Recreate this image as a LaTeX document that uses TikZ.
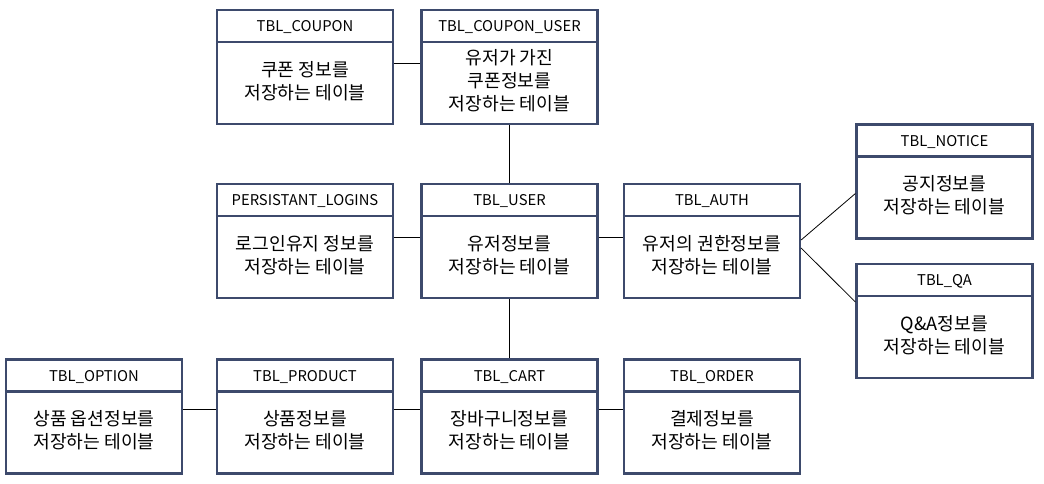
\documentclass[tikz,border=0pt]{standalone}
\usepackage{fontspec}
\setmainfont{Noto Sans CJK KR}
\usepackage{tikz}
\definecolor{TableBlue}{HTML}{3D4A6C}

% one table: name, centre, header, body
\newcommand{\dbtable}[4]{%
  \node[tbl] (#1) at (#2) {};
  \draw[tbl line] ([yshift=-33pt]#1.north west) -- ([yshift=-33pt]#1.north east);
  \node[tbl head] (#1-head) at ([yshift=-18.5pt]#1.north) {#3};
  \node[tbl body] (#1-body) at ([yshift=-72pt]#1.north) {#4};
}

\begin{document}
\begin{tikzpicture}[x=1pt, y=-1pt,
  tbl/.style={draw=TableBlue, line width=2.2pt, minimum width=176pt, minimum height=114pt, inner sep=0pt},
  tbl line/.style={draw=TableBlue, line width=2.2pt},
  tbl head/.style={font=\fontsize{14.8}{17}\selectfont, inner sep=0pt},
  tbl body/.style={font=\fontsize{18.2}{23}\selectfont, align=center, inner sep=0pt},
  link/.style={draw=black, line width=0.8pt}]
  \useasboundingbox (0,0) rectangle (1044,483);

  \dbtable{coupon}{305,67}{TBL\_COUPON}{쿠폰 정보를\\저장하는 테이블}
  \dbtable{cpuser}{509.5,67}{TBL\_COUPON\_USER}{유저가 가진\\쿠폰정보를\\저장하는 테이블}
  \dbtable{logins}{305,241}{PERSISTANT\_LOGINS}{로그인유지 정보를\\저장하는 테이블}
  \dbtable{user}{509.5,241}{TBL\_USER}{유저정보를\\저장하는 테이블}
  \dbtable{auth}{712,241}{TBL\_AUTH}{유저의 권한정보를\\저장하는 테이블}
  \dbtable{notice}{944.5,181.5}{TBL\_NOTICE}{공지정보를\\저장하는 테이블}
  \dbtable{qa}{944.5,321}{TBL\_QA}{Q\&A정보를\\저장하는 테이블}
  \dbtable{option}{94,416.5}{TBL\_OPTION}{상품 옵션정보를\\저장하는 테이블}
  \dbtable{product}{305,416.5}{TBL\_PRODUCT}{상품정보를\\저장하는 테이블}
  \dbtable{cart}{509.5,416.5}{TBL\_CART}{장바구니정보를\\저장하는 테이블}
  \dbtable{order}{712,416.5}{TBL\_ORDER}{결제정보를\\저장하는 테이블}

  % relations
  \draw[link] ([yshift=4pt]coupon.east) -- ([yshift=4pt]cpuser.west);
  \draw[link] (cpuser.south) -- (user.north);
  \draw[link] ([yshift=4pt]logins.east) -- ([yshift=4pt]user.west);
  \draw[link] ([yshift=4pt]user.east) -- ([yshift=4pt]auth.west);
  \draw[link] ([yshift=1pt]auth.east) -- ([yshift=-12pt]notice.west);
  \draw[link] ([yshift=-7pt]auth.east) -- ([yshift=19pt]qa.west);
  \draw[link] (user.south) -- (cart.north);
  \draw[link] ([yshift=7.5pt]option.east) -- ([yshift=7.5pt]product.west);
  \draw[link] ([yshift=7.5pt]product.east) -- ([yshift=7.5pt]cart.west);
  \draw[link] ([yshift=7.5pt]cart.east) -- ([yshift=7.5pt]order.west);
\end{tikzpicture}
\end{document}
